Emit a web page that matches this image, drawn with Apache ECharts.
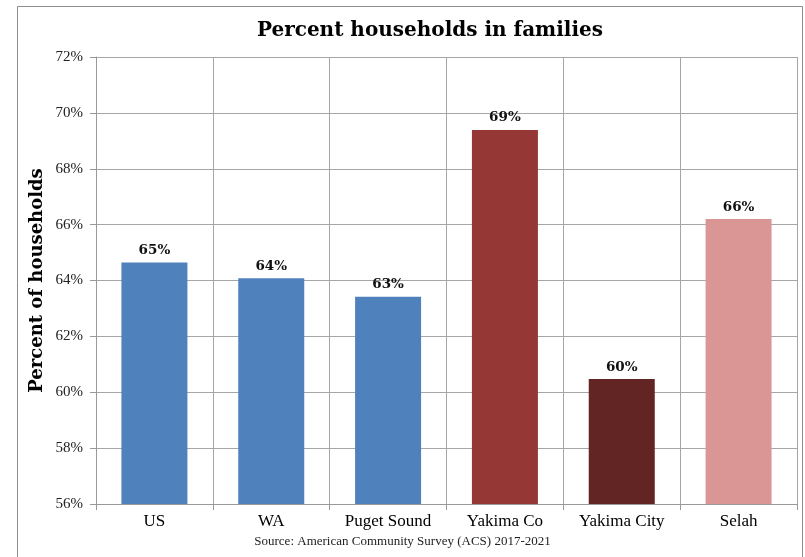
<!DOCTYPE html>
<html>
<head>
<meta charset="utf-8">
<script src="https://cdn.jsdelivr.net/npm/echarts@6/dist/echarts.min.js"></script>
<style>
  html, body { margin: 0; padding: 0; background: #fff; }
  #chart { width: 805px; height: 557px; }
</style>
</head>
<body>
<div id="chart"></div>
<script>
// Share of households that are family households, ACS 2017-2021
const categories = ['US', 'WA', 'Puget Sound', 'Yakima Co', 'Yakima City', 'Selah'];
const percentValues = [64.64, 64.08, 63.42, 69.39, 60.47, 66.2];
const barColors = ['#4F81BD', '#4F81BD', '#4F81BD', '#953735', '#632523', '#D99694'];
const yTicks = { min: 56, max: 72, step: 2 };

const serif = '"Liberation Serif", "DejaVu Serif", serif';
const boldSerif = '"DejaVu Serif", "Liberation Serif", serif';

const chart = echarts.init(document.getElementById('chart'), null, { renderer: 'canvas' });

chart.setOption({
  backgroundColor: '#fff',
  animation: false,
  title: {
    text: 'Percent households in families',
    left: 425,
    top: 16,
    textAlign: 'center',
    textStyle: { fontFamily: boldSerif, fontSize: 20, fontWeight: 'bold', color: '#000' }
  },
  graphic: [
    {
      type: 'rect',
      shape: { x: 17.5, y: 6.5, width: 785, height: 600 },
      style: { fill: null, stroke: '#8c8c8c', lineWidth: 1 },
      silent: true
    },
    {
      type: 'text',
      left: 'center',
      top: 535,
      style: {
        text: 'Source: American Community Survey (ACS) 2017-2021',
        font: '13px ' + serif,
        fill: '#222'
      }
    }
  ],
  grid: { left: 96, right: 8, top: 57, bottom: 53, containLabel: false },
  xAxis: {
    type: 'category',
    data: categories,
    axisLine: { show: true, lineStyle: { color: '#999', width: 1 } },
    axisTick: { show: true, length: 6, lineStyle: { color: '#999' } },
    splitLine: { show: true, lineStyle: { color: '#a6a6a6', width: 1 } },
    axisLabel: { fontFamily: serif, fontSize: 17, color: '#000', margin: 9 }
  },
  yAxis: {
    type: 'value',
    min: yTicks.min,
    max: yTicks.max,
    interval: yTicks.step,
    name: 'Percent of households',
    nameLocation: 'middle',
    nameGap: 50,
    nameMoveOverlap: false,
    nameTextStyle: { fontFamily: boldSerif, fontSize: 18, fontWeight: 'bold', color: '#000' },
    axisLine: { show: true, lineStyle: { color: '#999', width: 1 } },
    axisTick: { show: true, length: 6, inside: false, lineStyle: { color: '#999' } },
    splitLine: { show: true, lineStyle: { color: '#a6a6a6', width: 1 } },
    axisLabel: {
      fontFamily: serif, fontSize: 15, color: '#222', margin: 13,
      formatter: v => v + '%'
    }
  },
  series: [{
    type: 'bar',
    data: percentValues.map((v, i) => ({ value: v, itemStyle: { color: barColors[i] } })),
    barWidth: 66,
    label: {
      show: true,
      position: 'top',
      distance: 5,
      fontFamily: boldSerif,
      fontSize: 13.5,
      fontWeight: 'bold',
      color: '#111',
      formatter: p => Math.round(p.value) + '%'
    }
  }]
});
</script>
</body>
</html>
